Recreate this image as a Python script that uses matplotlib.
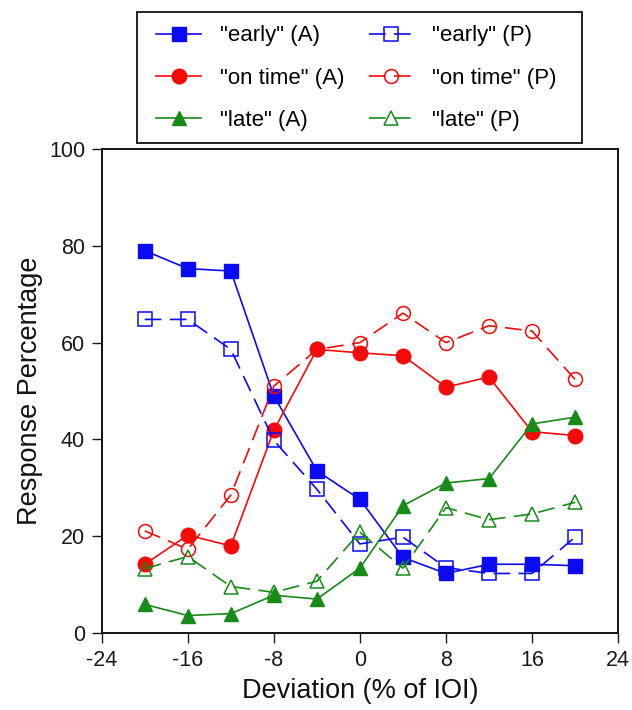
import matplotlib
matplotlib.use("Agg")
import matplotlib.pyplot as plt
from matplotlib.patches import Rectangle

plt.rcParams['font.family'] = ['Liberation Sans', 'DejaVu Sans']
plt.rcParams['axes.unicode_minus'] = False

# Desviación (% del IOI)
deviation = [-20, -16, -12, -8, -4, 0, 4, 8, 12, 16, 20]

# Porcentajes de respuesta, condición A (relleno) y P (hueco)
early_a = [79, 75.3, 74.8, 49, 33.5, 27.6, 15.6, 12.3, 14.2, 14.2, 13.9]
early_p = [64.8, 64.8, 58.6, 39.8, 29.7, 18.4, 19.8, 13.5, 12.3, 12.3, 19.8]
ontime_a = [14.2, 20.2, 18, 41.9, 58.6, 57.9, 57.3, 50.8, 52.9, 41.6, 40.8]
ontime_p = [21.1, 17.3, 28.5, 51, 58.6, 60, 66.1, 60, 63.5, 62.4, 52.4]
late_a = [5.9, 3.6, 4, 7.8, 7, 13.4, 26.3, 31, 31.9, 43.2, 44.6]
late_p = [13.3, 15.8, 9.6, 8.4, 10.7, 20.8, 13.4, 25.9, 23.4, 24.6, 27]

BLUE = '#0a0af5'
RED = '#f50a0a'
GREEN = '#178a17'
DASH = (0, (10, 5))

fig = plt.figure(figsize=(6.32, 7.1), dpi=100)
ax = fig.add_axes([0.161, 0.1085, 0.817, 0.6815])

lw = 1.2
h1, = ax.plot(deviation, early_a, color=BLUE, lw=lw, marker='s', ms=10.5, label='"early" (A)')
h2, = ax.plot(deviation, ontime_a, color=RED, lw=lw, marker='o', ms=10.5, label='"on time" (A)')
h3, = ax.plot(deviation, late_a, color=GREEN, lw=lw, marker='^', ms=10.5, label='"late" (A)')
h4, = ax.plot(deviation, early_p, color=BLUE, lw=lw, ls=DASH, marker='s', ms=10, mfc='none', mew=1.1, label='"early" (P)')
h5, = ax.plot(deviation, ontime_p, color=RED, lw=lw, ls=DASH, marker='o', ms=10, mfc='none', mew=1.1, label='"on time" (P)')
h6, = ax.plot(deviation, late_p, color=GREEN, lw=lw, ls=DASH, marker='^', ms=10, mfc='none', mew=1.1, label='"late" (P)')

ax.set_xlim(-24, 24)
ax.set_ylim(0, 100)
ax.set_xticks(range(-24, 25, 8))
ax.set_yticks(range(0, 101, 20))
ax.tick_params(direction='out', length=7, width=1, pad=5, labelsize=15.5, colors='#1a1a1a')
for s in ax.spines.values():
    s.set_linewidth(1.4)
    s.set_color('#111111')

ax.set_xlabel('Deviation (% of IOI)', fontsize=19.5, color='#111111', labelpad=5)
ax.set_ylabel('Response Percentage', fontsize=19.5, color='#111111', labelpad=4)

# leyenda sin marco; el marco se dibuja aparte para ajustar los márgenes
leg = fig.legend(handles=[h1, h2, h3, h4, h5, h6], ncol=2, loc='upper left',
                 bbox_to_anchor=(0.2263, 0.983), fontsize=16, frameon=False,
                 handlelength=2.0, handletextpad=0.85, columnspacing=1.1,
                 labelspacing=0.95, borderpad=0.6, borderaxespad=0)
fig.patches.append(Rectangle((137 / 632, 1 - 143 / 710), 445 / 632, 131 / 710,
                             transform=fig.transFigure, fill=False,
                             edgecolor='#222222', linewidth=1.4))

fig.savefig('out.png', dpi=100)
